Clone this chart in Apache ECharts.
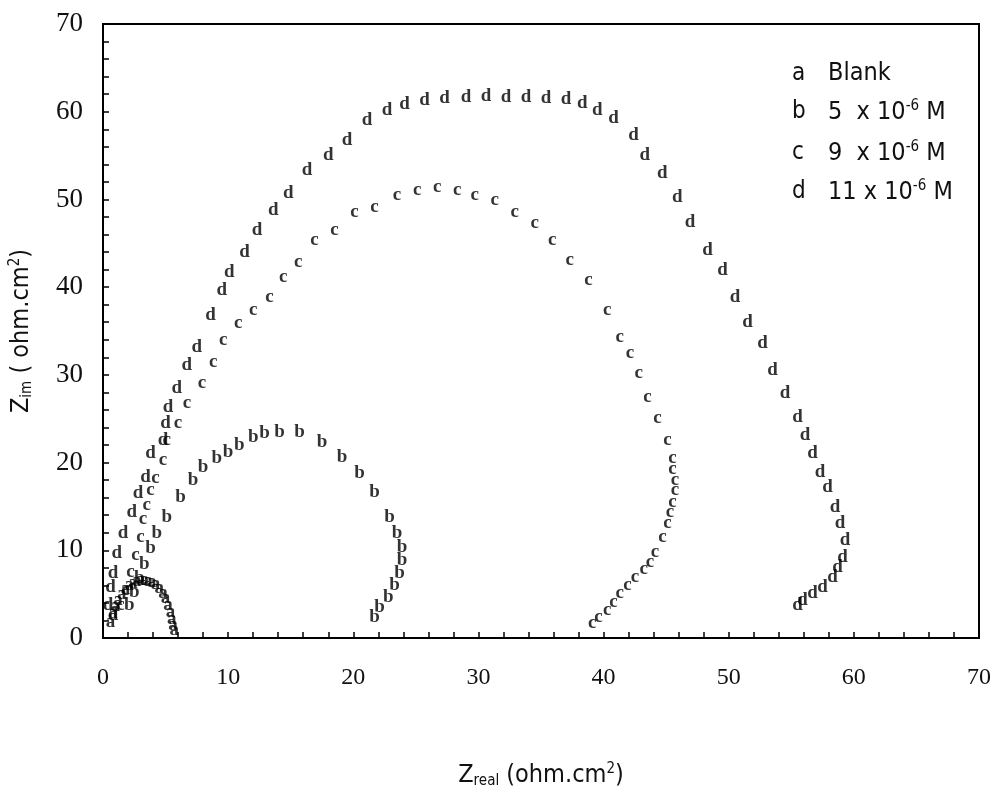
<!DOCTYPE html>
<html>
<head>
<meta charset="utf-8">
<script src="https://cdn.jsdelivr.net/npm/echarts@6/dist/echarts.min.js"></script>
<style>
  html, body { margin: 0; padding: 0; background: #fff; }
  #chart { width: 995px; height: 794px; }
</style>
</head>
<body>
<div id="chart"></div>
<script>
// Nyquist impedance spectra, one letter per measured point
const SANS = '"DejaVu Sans Condensed", "Liberation Sans Narrow", "Arial Narrow", "Liberation Sans", sans-serif';
const SERIF = '"Liberation Serif", "DejaVu Serif", serif';

const seriesLetters = ['a', 'b', 'c', 'd'];
const legendLetters = ['a', 'b', 'c', 'd'];
const legendTexts = [
  'Blank',
  '5  x 10{sup|-6} M',
  '9  x 10{sup|-6} M',
  '11 x 10{sup|-6} M'
];

// a: blank
const seriesA = [
  [0.6, 1.8], [0.8, 2.8], [1.0, 3.6], [1.2, 4.3], [1.5, 5.0], [1.8, 5.6],
  [2.1, 6.0], [2.4, 6.3], [2.7, 6.5], [3.0, 6.6], [3.3, 6.6], [3.6, 6.5],
  [3.9, 6.4], [4.2, 6.1], [4.5, 5.7], [4.8, 5.1], [5.0, 4.5], [5.2, 3.8],
  [5.4, 3.0], [5.5, 2.2], [5.6, 1.5], [5.7, 0.9]
];

// b: 5 x 10^-6 M
const seriesB = [
  [2.1, 3.8], [2.5, 5.2], [2.9, 6.8], [3.3, 8.4], [3.8, 10.2], [4.3, 12.0],
  [5.1, 13.8], [6.2, 16.1], [7.2, 18.0], [8.0, 19.5], [9.1, 20.5], [10.0, 21.2],
  [10.9, 22.0], [12.0, 22.9], [12.9, 23.4], [14.1, 23.5], [15.7, 23.5], [17.5, 22.3],
  [19.1, 20.6], [20.5, 18.8], [21.7, 16.6], [22.9, 13.8], [23.5, 12.0], [23.9, 10.4],
  [23.9, 8.9], [23.7, 7.4], [23.3, 6.0], [22.8, 4.7], [22.1, 3.5], [21.7, 2.4]
];

// c: 9 x 10^-6 M
const seriesC = [
  [1.4, 3.8], [1.8, 5.5], [2.2, 7.5], [2.6, 9.5], [3.0, 11.5], [3.2, 13.5],
  [3.5, 15.2], [3.8, 16.9], [4.2, 18.2], [4.8, 20.3], [5.1, 22.6], [6.0, 24.5],
  [6.7, 26.8], [7.9, 29.1], [8.8, 31.4], [9.6, 34.0], [10.8, 35.9], [12.0, 37.4],
  [13.3, 38.9], [14.4, 41.2], [15.6, 42.9], [16.9, 45.4], [18.5, 46.5], [20.1, 48.5],
  [21.7, 49.1], [23.5, 50.5], [25.1, 51.1], [26.7, 51.4], [28.3, 51.1], [29.7, 50.5],
  [31.3, 49.9], [32.9, 48.5], [34.5, 47.3], [35.9, 45.4], [37.3, 43.1], [38.8, 40.8],
  [40.3, 37.4], [41.3, 34.3], [42.1, 32.5], [42.8, 30.2], [43.5, 27.5], [44.3, 25.1],
  [45.1, 22.6], [45.5, 20.5], [45.5, 19.2], [45.7, 18.0], [45.7, 16.9], [45.5, 15.5],
  [45.3, 14.3], [45.1, 13.1], [44.7, 11.5], [44.1, 9.8], [43.7, 8.7], [43.2, 7.8],
  [42.5, 7.0], [41.9, 6.0], [41.3, 5.1], [40.8, 4.1], [40.3, 3.2], [39.6, 2.4],
  [39.1, 1.7]
];

// d: 11 x 10^-6 M
const seriesD = [
  [0.8, 2.6], [0.4, 3.8], [0.6, 5.8], [0.8, 7.4], [1.1, 9.7], [1.6, 12.0],
  [2.3, 14.3], [2.8, 16.5], [3.4, 18.4], [3.8, 21.1], [4.8, 22.6], [5.0, 24.5],
  [5.2, 26.3], [5.9, 28.5], [6.7, 31.1], [7.5, 33.2], [8.6, 36.8], [9.5, 39.7],
  [10.1, 41.7], [11.3, 44.0], [12.3, 46.5], [13.6, 48.8], [14.8, 50.7], [16.3, 53.4],
  [18.0, 55.1], [19.5, 56.8], [21.1, 59.1], [22.7, 60.2], [24.1, 60.9], [25.7, 61.3],
  [27.3, 61.6], [29.0, 61.7], [30.6, 61.8], [32.2, 61.7], [33.8, 61.7], [35.4, 61.6],
  [37.0, 61.4], [38.3, 61.0], [39.5, 60.2], [40.8, 59.3], [42.4, 57.3], [43.3, 55.1],
  [44.7, 53.0], [45.9, 50.3], [46.9, 47.4], [48.3, 44.2], [49.5, 42.0], [50.5, 38.9],
  [51.5, 36.0], [52.7, 33.6], [53.5, 30.6], [54.5, 27.9], [55.5, 25.2], [56.1, 23.1],
  [56.7, 21.1], [57.3, 18.9], [57.9, 17.2], [58.5, 14.9], [58.9, 13.1], [59.3, 11.2],
  [59.1, 9.2], [58.7, 8.1], [58.3, 7.0], [57.5, 5.8], [56.7, 5.1], [55.9, 4.3],
  [55.5, 3.8]
];

const allSeries = [seriesA, seriesB, seriesC, seriesD];

const chart = echarts.init(document.getElementById('chart'), null, { renderer: 'canvas' });

const axisCommon = {
  type: 'value',
  min: 0,
  max: 70,
  interval: 10,
  axisLine: { show: true, onZero: false, lineStyle: { color: '#000', width: 2 } },
  axisTick: { show: true, inside: true, length: 6, lineStyle: { color: '#000', width: 1.5 } },
  minorTick: { show: true, splitNumber: 5, length: 6, lineStyle: { color: '#000', width: 1.5 } },
  splitLine: { show: false },
  minorSplitLine: { show: false }
};

const nameRich = {
  sub: { fontSize: 15, fontFamily: SANS, color: '#111', padding: [12, 0, 0, 0] },
  sup: { fontSize: 15, fontFamily: SANS, color: '#111', padding: [0, 0, 12, 0] }
};

const legendY = [77, 115, 156, 195];
const graphics = [];
legendLetters.forEach((ch, i) => {
  graphics.push({
    type: 'text',
    left: 792,
    top: legendY[i] - 15,
    style: { text: ch, font: '24px ' + SANS, fill: '#111' }
  });
  graphics.push({
    type: 'text',
    left: 828,
    top: legendY[i] - 16,
    style: {
      text: legendTexts[i],
      fill: '#111',
      fontFamily: SANS,
      fontSize: 25,
      rich: {
        sup: { fontSize: 15, fontFamily: SANS, fill: '#111', padding: [0, 0, 12, 0] }
      }
    }
  });
});

chart.setOption({
  backgroundColor: '#fff',
  animation: false,
  grid: {
    left: 103, right: 16, top: 24, bottom: 156,
    show: true, borderColor: '#000', borderWidth: 2, backgroundColor: 'transparent'
  },
  xAxis: Object.assign({}, axisCommon, {
    name: 'Z{sub|real} (ohm.cm{sup|2})',
    nameLocation: 'middle',
    nameGap: 124,
    nameTextStyle: { color: '#111', fontFamily: SANS, fontSize: 25, rich: nameRich },
    axisLabel: { color: '#111', fontFamily: SERIF, fontSize: 24, margin: 28 }
  }),
  yAxis: Object.assign({}, axisCommon, {
    name: 'Z{sub|im} ( ohm.cm{sup|2})',
    nameLocation: 'middle',
    nameGap: 68,
    nameRotate: 90,
    nameTextStyle: { color: '#111', fontFamily: SANS, fontSize: 25, rich: nameRich },
    axisLabel: { color: '#111', fontFamily: SERIF, fontSize: 27, margin: 20 }
  }),
  series: allSeries.map((data, i) => ({
    type: 'scatter',
    name: seriesLetters[i],
    data: data,
    symbolSize: 1,
    itemStyle: { color: 'rgba(0,0,0,0)' },
    label: {
      show: true,
      position: 'inside',
      formatter: seriesLetters[i],
      color: '#000',
      fontFamily: SERIF,
      fontWeight: 'bold',
      fontSize: 19
    },
    emphasis: { disabled: true }
  })),
  graphic: graphics
});
</script>
</body>
</html>
